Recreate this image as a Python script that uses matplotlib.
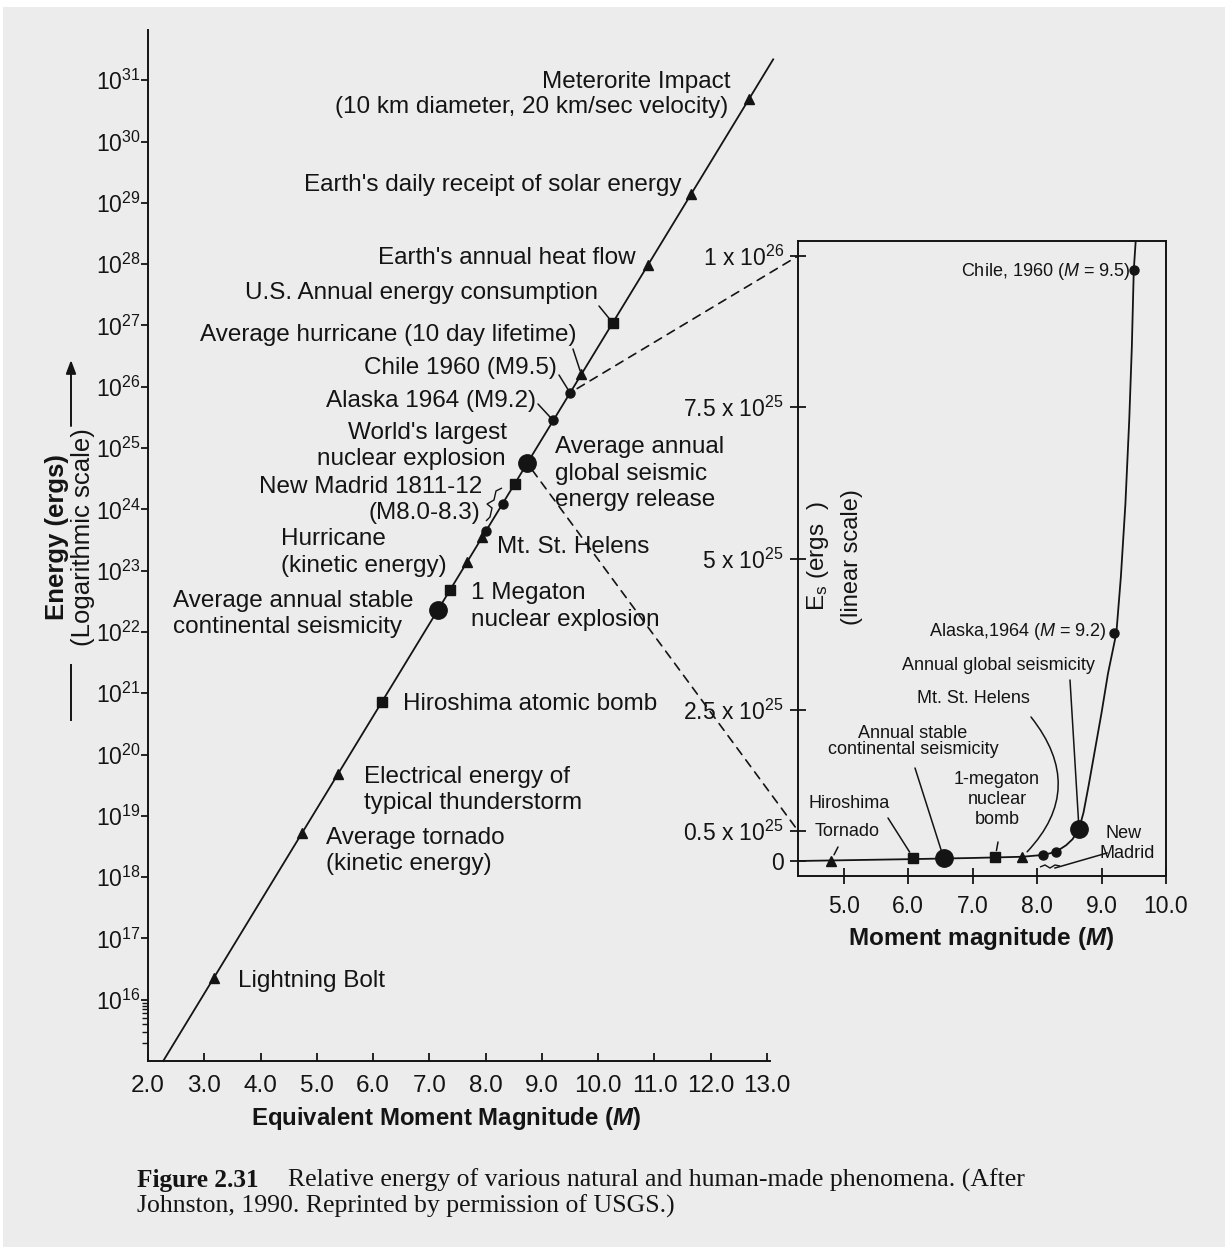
import matplotlib
matplotlib.use("Agg")
import matplotlib.pyplot as plt
from matplotlib.patches import ConnectionPatch, Rectangle
from matplotlib.transforms import Affine2D
from matplotlib.ticker import FixedLocator, NullFormatter
from matplotlib.path import Path
from matplotlib.patches import PathPatch

W, H = 1225, 1247
plt.rcParams['font.family'] = ['Liberation Sans', 'DejaVu Sans']
plt.rcParams['mathtext.fontset'] = 'custom'
plt.rcParams['mathtext.rm'] = 'Liberation Sans'
plt.rcParams['mathtext.it'] = 'Liberation Sans:italic'
plt.rcParams['mathtext.bf'] = 'Liberation Sans:bold'
plt.rcParams['mathtext.bfit'] = 'Liberation Sans:italic:bold'

INK = '#141414'
BG = '#ececec'

# ---- main chart: energy of phenomena vs equivalent moment magnitude ----
line_m = [2.27, 13.11]
line_log_e = [15.0, 31.34]

magnitude = [3.17, 4.74, 5.38, 6.16, 7.15, 7.37, 7.67, 7.94, 8.0, 8.3,
             8.52, 8.74, 9.2, 9.5, 9.70, 10.26, 10.89, 11.65, 12.68]
log_energy = [16.36, 18.72, 19.69, 20.86, 22.36, 22.69, 23.14, 23.55, 23.64, 24.09,
              24.42, 24.75, 25.45, 25.90, 26.20, 27.04, 27.99, 29.14, 30.69]
marker_kind = ['tri', 'tri', 'tri', 'sq', 'big', 'sq', 'tri', 'tri', 'dot', 'dot',
               'sq', 'big', 'dot', 'dot', 'tri', 'sq', 'tri', 'tri', 'tri']

y_tick_exp = list(range(16, 32))
x_ticks = [2.0, 3.0, 4.0, 5.0, 6.0, 7.0, 8.0, 9.0, 10.0, 11.0, 12.0, 13.0]

# ---- inset: linear energy scale ----
inset_m = [4.80, 6.08, 6.55, 7.35, 7.77, 8.09, 8.29, 8.65, 9.2, 9.5]
inset_e25 = [0.0, 0.05, 0.05, 0.06, 0.07, 0.10, 0.15, 0.53, 3.77, 9.77]
inset_kind = ['tri', 'sq', 'big', 'sq', 'tri', 'dot', 'dot', 'big', 'dot', 'dot']

curve_m = [4.29, 6.0, 7.0, 7.77, 8.09, 8.29, 8.45, 8.55, 8.65, 8.72, 8.80,
           8.90, 9.00, 9.10, 9.23, 9.30, 9.37, 9.43, 9.47, 9.50, 9.53]
curve_e25 = [0.0, 0.03, 0.05, 0.07, 0.10, 0.15, 0.26, 0.36, 0.53, 0.8, 1.25,
             1.85, 2.45, 3.1, 3.77, 4.7, 5.9, 7.3, 8.5, 9.77, 10.25]

inset_y_ticks = [0.0, 0.5, 2.5, 5.0, 7.5, 10.0]
inset_y_labels = ['0', r'0.5 x 10$^{25}$', r'2.5 x 10$^{25}$', r'5 x 10$^{25}$',
                  r'7.5 x 10$^{25}$', r'1 x 10$^{26}$']
inset_x_ticks = [5.0, 6.0, 7.0, 8.0, 9.0, 10.0]

MARK = {
    'tri': dict(marker='^', ms=7.5),
    'sq': dict(marker='s', ms=7),
    'dot': dict(marker='o', ms=6.5),
    'big': dict(marker='o', ms=12.5),
}

fig = plt.figure(figsize=(W / 100, H / 100), dpi=100, facecolor=BG)
PX = Affine2D().scale(1, -1).translate(0, H)


def box(l, t, r, b):
    return [l / W, 1 - b / H, (r - l) / W, (b - t) / H]


def ftext(x, y, s, **kw):
    kw.setdefault('va', 'center')
    kw.setdefault('color', INK)
    return fig.text(x / W, 1 - y / H, s, **kw)


# white margin of the scanned page
fig.patches.append(Rectangle((0, 1 - 7 / H), 1, 7 / H, transform=fig.transFigure,
                             facecolor='white', edgecolor='none', zorder=0))
fig.patches.append(Rectangle((0, 0), 3 / W, 1, transform=fig.transFigure,
                             facecolor='white', edgecolor='none', zorder=0))

# ---------------- main axes ----------------
ax = fig.add_axes(box(148, 30, 767, 1061))
ax.set_facecolor('none')
ax.set_yscale('log')
ax.set_xlim(2.0, 13.0)
ax.set_ylim(1e15, 10 ** (15 + 1031 / 61.3))
for s in ('top', 'right'):
    ax.spines[s].set_visible(False)
for s in ('left', 'bottom'):
    ax.spines[s].set_linewidth(1.4)
    ax.spines[s].set_color(INK)
ax.spines['bottom'].set_bounds(2.0, 13.05)

ax.set_xticks(x_ticks)
ax.set_xticklabels([f'{v:.1f}' for v in x_ticks], fontsize=17.5, color=INK)
ax.tick_params(axis='x', direction='in', length=6, width=1.3, pad=10, colors=INK)
ax.yaxis.set_major_locator(FixedLocator([10.0 ** e for e in y_tick_exp]))
ax.set_yticklabels([f'10$^{{{e}}}$' for e in y_tick_exp], fontsize=16.5, color=INK)
ax.yaxis.set_minor_locator(FixedLocator([k * 1e15 for k in range(2, 10)]))
ax.yaxis.set_minor_formatter(NullFormatter())
ax.tick_params(axis='y', which='major', direction='out', length=5, width=1.3, pad=0, colors=INK)
ax.tick_params(axis='y', which='minor', direction='out', length=4, width=1.0, colors=INK)

ax.plot(line_m, [10 ** v for v in line_log_e], color=INK, lw=1.3, clip_on=False, zorder=2)
for m, le, k in zip(magnitude, log_energy, marker_kind):
    ax.plot([m], [10 ** le], linestyle='none', color=INK, mec=INK, zorder=3, **MARK[k])

main_labels = [
    ("Meterorite Impact", 730, 82, 'right'),
    ("(10 km diameter, 20 km/sec velocity)", 728, 107, 'right'),
    ("Earth's daily receipt of solar energy", 681, 185, 'right'),
    ("Earth's annual heat flow", 636, 258, 'right'),
    ("U.S. Annual energy consumption", 598, 293, 'right'),
    ("Average hurricane (10 day lifetime)", 576, 335, 'right'),
    ("Chile 1960 (M9.5)", 557, 368, 'right'),
    ("Alaska 1964 (M9.2)", 536, 401, 'right'),
    ("World's largest", 507, 433, 'right'),
    ("nuclear explosion", 506, 459, 'right'),
    ("New Madrid 1811-12", 482, 487, 'right'),
    ("(M8.0-8.3)", 480, 513, 'right'),
    ("Average annual", 555, 447, 'left'),
    ("global seismic", 555, 474, 'left'),
    ("energy release", 555, 500, 'left'),
    ("Hurricane", 281, 539, 'left'),
    ("(kinetic energy)", 281, 566, 'left'),
    ("Mt. St. Helens", 497, 547, 'left'),
    ("Average annual stable", 173, 601, 'left'),
    ("continental seismicity", 173, 627, 'left'),
    ("1 Megaton", 471, 593, 'left'),
    ("nuclear explosion", 471, 620, 'left'),
    ("Hiroshima atomic bomb", 403, 704, 'left'),
    ("Electrical energy of", 364, 777, 'left'),
    ("typical thunderstorm", 364, 803, 'left'),
    ("Average tornado", 326, 838, 'left'),
    ("(kinetic energy)", 326, 864, 'left'),
    ("Lightning Bolt", 238, 981, 'left'),
]
for s, x, y, ha in main_labels:
    ftext(x, y, s, ha=ha, fontsize=17.5)

# leader lines from labels to their points
leaders = [(599, 306, 15), (573, 349, 14), (559, 375, 13), (538, 404, 12)]
for x, y, i in leaders:
    ax.annotate('', xy=(magnitude[i], 10 ** log_energy[i]), xytext=(x, y), textcoords=PX,
                arrowprops=dict(arrowstyle='-', color=INK, lw=1.1, shrinkA=0, shrinkB=3))

# brace for the New Madrid pair
brace = [(502, 488), (496, 491), (494, 500), (487, 504), (492, 508), (490, 517), (486, 521)]
fig.add_artist(PathPatch(Path([PX.transform(p) for p in brace]), transform=None,
                         fill=False, edgecolor=INK, lw=1.0))

ftext(446, 1118, r'Equivalent Moment Magnitude ($\mathbfit{M}$)', ha='center',
      fontsize=17.3, fontweight='bold')
ftext(57, 537, 'Energy (ergs)', ha='center', rotation=90, fontsize=18.5, fontweight='bold')
ftext(83, 537, '(Logarithmic scale)', ha='center', rotation=90, fontsize=18.5)
fig.add_artist(plt.Line2D([71 / W, 71 / W], [1 - 720 / H, 1 - 665 / H], color=INK, lw=1.4))
ax.annotate('', xy=(71, 360), xytext=(71, 426), xycoords=PX, textcoords=PX,
            arrowprops=dict(arrowstyle='-|>,head_length=0.8,head_width=0.3',
                            color=INK, lw=1.4, shrinkA=0, shrinkB=0))

# ---------------- inset axes (linear scale) ----------------
ax2 = fig.add_axes(box(798, 241, 1166, 876))
ax2.set_facecolor('none')
ax2.set_xlim(4.29, 10.0)
ax2.set_ylim(-15 / 60.5, (861 - 241) / 60.5)
for s in ax2.spines.values():
    s.set_linewidth(1.4)
    s.set_color(INK)
ax2.set_xticks(inset_x_ticks)
ax2.set_xticklabels([f'{v:.1f}' for v in inset_x_ticks], fontsize=16.5, color=INK)
ax2.set_yticks(inset_y_ticks)
ax2.set_yticklabels(inset_y_labels, fontsize=16.5, color=INK)
ax2.tick_params(axis='both', direction='inout', length=12, width=1.3, colors=INK)
ax2.tick_params(axis='x', pad=8)
ax2.tick_params(axis='y', pad=4)

ax2.plot(curve_m, curve_e25, color=INK, lw=1.3, zorder=2)
for m, e, k in zip(inset_m, inset_e25, inset_kind):
    ax2.plot([m], [e], linestyle='none', color=INK, mec=INK, zorder=3, clip_on=False, **MARK[k])

inset_labels = [
    (r'Chile, 1960 ($M$ = 9.5)', 1130, 271, 'right'),
    (r'Alaska,1964 ($M$ = 9.2)', 1107, 632, 'right'),
    ('Annual global seismicity', 998, 665, 'center'),
    ('Mt. St. Helens', 973, 699, 'center'),
    ('Annual stable', 913, 733, 'center'),
    ('continental seismicity', 913, 750, 'center'),
    ('1-megaton', 997, 780, 'center'),
    ('nuclear', 997, 800, 'center'),
    ('bomb', 997, 820, 'center'),
    ('Hiroshima', 849, 804, 'center'),
    ('Tornado', 847, 832, 'center'),
    ('New', 1124, 834, 'center'),
    ('Madrid', 1127, 854, 'center'),
]
for s, x, y, ha in inset_labels:
    ftext(x, y, s, ha=ha, fontsize=13)

inset_leaders = [(838, 847, 0, 0.0), (888, 818, 1, 0.0), (915, 768, 2, 0.0),
                 (998, 842, 3, 0.0), (1031, 717, 4, -0.45), (1070, 680, 7, 0.0)]
for x, y, i, rad in inset_leaders:
    ax2.annotate('', xy=(inset_m[i], inset_e25[i]), xytext=(x, y), textcoords=PX,
                 arrowprops=dict(arrowstyle='-', color=INK, lw=1.1, shrinkA=0, shrinkB=5,
                                 connectionstyle=f'arc3,rad={rad}'))
# New Madrid leader with a small break mark beneath the two points
fig.add_artist(plt.Line2D([1107 / W, 1055 / W], [1 - 853 / H, 1 - 868 / H], color=INK, lw=1.1))
wave = [(1040, 867), (1045, 865), (1050, 868), (1055, 865), (1060, 866)]
fig.add_artist(PathPatch(Path([PX.transform(p) for p in wave]), transform=None,
                         fill=False, edgecolor=INK, lw=1.0))

ftext(981, 939, r'Moment magnitude ($\mathbfit{M}$)', ha='center', fontsize=17.5, fontweight='bold')
ftext(818, 556, r'E$_{\mathrm{s}}$ (ergs  )', ha='center', rotation=90, fontsize=17.5)
ftext(852, 557, '(linear scale)', ha='center', rotation=90, fontsize=17)

# dashed links from the log chart into the linear inset
for i, e_top in ((13, 10.0), (11, 0.5)):
    cp = ConnectionPatch(xyA=(magnitude[i], 10 ** log_energy[i]), coordsA=ax.transData,
                         xyB=(4.29, e_top), coordsB=ax2.transData,
                         color=INK, lw=1.2, linestyle=(0, (5, 4)), shrinkA=6, shrinkB=0)
    fig.add_artist(cp)

# ---------------- caption ----------------
serif = ['Liberation Serif', 'DejaVu Serif']
ftext(137, 1180, 'Figure 2.31', family=serif, fontsize=18.2, fontweight='bold', ha='left')
ftext(288, 1180, 'Relative energy of various natural and human-made phenomena. (After',
      family=serif, fontsize=18.5, ha='left')
ftext(137, 1206, 'Johnston, 1990. Reprinted by permission of USGS.)', family=serif,
      fontsize=18.5, ha='left')

fig.savefig('out.png', dpi=100, facecolor=BG)
